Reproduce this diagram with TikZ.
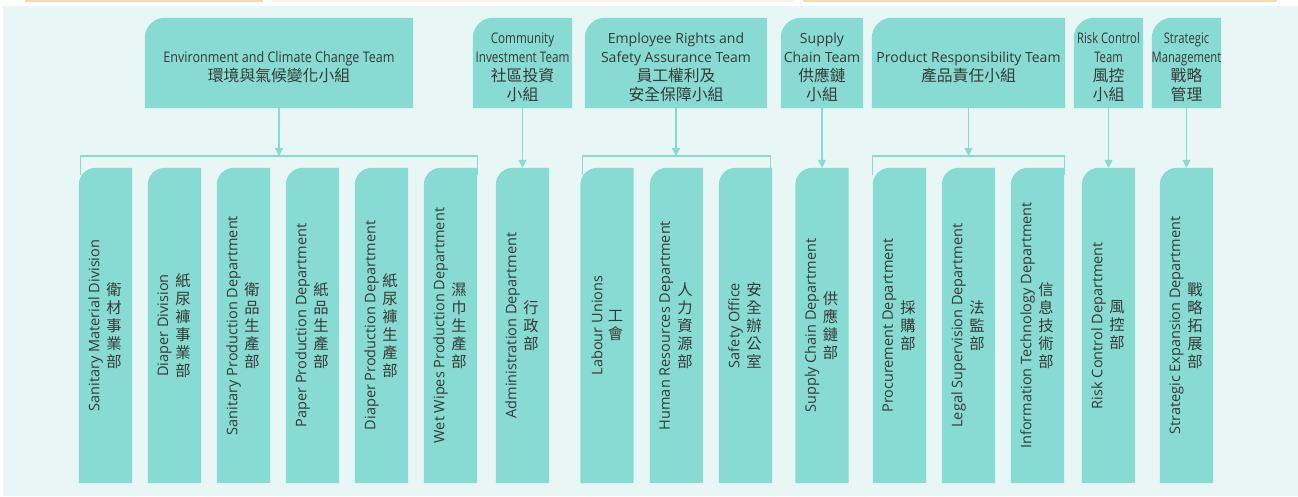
\documentclass[tikz,border=0pt]{standalone}
\usepackage{fontspec}
\setmainfont{Open Sans}
\newfontfamily\cjk{Noto Sans CJK TC}
\usetikzlibrary{arrows.meta,backgrounds}
\definecolor{panel}{HTML}{E9F6F6}
\definecolor{boxteal}{HTML}{87DBD2}
\definecolor{ink}{HTML}{383838}
\definecolor{orangeline}{HTML}{FBD6B3}
\definecolor{paleline}{HTML}{FDF1E8}
\newcommand\zh[1]{{\cjk\fontsize{15.8}{19}\selectfont #1}}
\newcommand\cond[2]{{\fontsize{14.6}{19}\selectfont\scalebox{#1}[1]{#2}}}
\newcommand\tlfill[2]{\fill[boxteal] (#1.south west) [rounded corners=#2] -- (#1.north west) [sharp corners] -- (#1.north east) -- (#1.south east) -- cycle;}
\tikzset{
  team/.style={inner sep=0pt, minimum height=90pt},
  teamtext/.style={inner sep=0pt, align=center, text=ink, font=\fontsize{14}{19}\selectfont},
  dept/.style={inner sep=0pt, minimum height=315pt, minimum width=53pt},
  entext/.style={rotate=90, inner sep=0pt, text=ink, font=\fontsize{14.5}{16}\selectfont},
  zhtext/.style={inner sep=0pt, align=center, text=ink, font=\cjk\fontsize{15.3}{18}\selectfont},
  conn/.style={draw=boxteal, line width=1.3pt, -{Triangle[width=8pt,length=8pt]}},
  brack/.style={draw=boxteal, line width=1.3pt}
}
\newcommand\team[4]{%
  \node[team, minimum width=#3pt] (#1) at (#2,63) {};
  \node[teamtext] (#1t) at ([yshift=-4pt]#1.center) {#4};
  \begin{scope}[on background layer]\tlfill{#1}{20pt}\end{scope}
}
\newcommand\dept[5]{%
  \node[dept] (#1) at ({(#2+#3)/2},325.5) {};
  \node[entext] (#1en) at ([xshift=-10pt]#1.center) {#4};
  \node[zhtext] (#1zh) at ([xshift=8.5pt]#1.center) {#5};
  \begin{scope}[on background layer]\tlfill{#1}{17pt}\end{scope}
}
\begin{document}
\begin{tikzpicture}[x=1pt,y=-1pt]
\useasboundingbox (0,0) rectangle (1298,496);
\begin{scope}[on background layer]
  \fill[white] (0,0) rectangle (1298,496);
  \fill[panel] (3,6) rectangle (1298,496);
  \fill[orangeline] (25,0) rectangle (263,1.5);
  \fill[paleline] (272,0) rectangle (793,1.5);
  \fill[orangeline] (803,0) rectangle (1277,1.5);
\end{scope}
% teams
\team{env}{279}{268}{\cond{0.86}{Environment and Climate Change Team}\\\zh{環境與氣候變化小組}}
\team{com}{522.5}{99}{\cond{0.8}{Community}\\\cond{0.8}{Investment Team}\\\zh{社區投資}\\\zh{小組}}
\team{emp}{676}{182}{Employee Rights and\\Safety Assurance Team\\\zh{員工權利及}\\\zh{安全保障小組}}
\team{sup}{822}{82}{Supply\\Chain Team\\\zh{供應鏈}\\\zh{小組}}
\team{pro}{968.5}{193}{Product Responsibility Team\\\zh{產品責任小組}}
\team{rsk}{1108.5}{69}{\cond{0.77}{Risk Control}\\\cond{0.77}{Team}\\\zh{風控}\\\zh{小組}}
\team{stm}{1186.5}{69}{\cond{0.77}{Strategic}\\\cond{0.77}{Management}\\\zh{戰略}\\\zh{管理}}
% departments
\dept{d1}{79}{132}{Sanitary Material Division}{衛\\材\\事\\業\\部}
\dept{d2}{148}{201}{Diaper Division}{紙\\尿\\褲\\事\\業\\部}
\dept{d3}{217}{270}{Sanitary Production Department}{衛\\品\\生\\產\\部}
\dept{d4}{286}{339}{Paper Production Department}{紙\\品\\生\\產\\部}
\dept{d5}{355}{408}{Diaper Production Department}{紙\\尿\\褲\\生\\產\\部}
\dept{d6}{424}{477}{Wet Wipes Production Department}{濕\\巾\\生\\產\\部}
\dept{d7}{496}{549}{Administration Department}{行\\政\\部}
\dept{d8}{581}{633}{Labour Unions}{工\\會}
\dept{d9}{650}{703}{Human Resources Department}{人\\力\\資\\源\\部}
\dept{d10}{719}{772}{Safety Office}{安\\全\\辦\\公\\室}
\dept{d11}{796}{848}{Supply Chain Department}{供\\應\\鏈\\部}
\dept{d12}{873}{926}{Procurement Department}{採\\購\\部}
\dept{d13}{942}{995}{Legal Supervision Department}{法\\監\\部}
\dept{d14}{1011}{1064}{Information Technology Department}{信\\息\\技\\術\\部}
\dept{d15}{1082}{1135}{Risk Control Department}{風\\控\\部}
\dept{d16}{1160}{1213}{Strategic Expansion Department}{戰\\略\\拓\\展\\部}
% brackets
\coordinate (bEnv) at (279,156);
\coordinate (bEmp) at (676,156);
\coordinate (bPro) at (968.5,156);
\draw[brack] ([xshift=2pt,yshift=-7pt]d1.north west) -- ([xshift=2pt]d1.north west |- bEnv) -- (d6.north east |- bEnv) -- ([yshift=-7pt]d6.north east);
\draw[brack] ([xshift=2pt,yshift=-7pt]d8.north west) -- ([xshift=2pt]d8.north west |- bEmp) -- ([xshift=-2pt]d10.north east |- bEmp) -- ([xshift=-2pt,yshift=-7pt]d10.north east);
\draw[brack] ([yshift=-7pt]d12.north west) -- (d12.north west |- bPro) -- (d14.north east |- bPro) -- ([yshift=-7pt]d14.north east);
% connectors
\draw[conn] (env.south) -- (bEnv);
\draw[conn] (emp.south) -- (bEmp);
\draw[conn] (pro.south) -- (bPro);
\draw[conn] (com.south) -- (d7.north);
\draw[conn] (sup.south) -- (d11.north);
\draw[conn] (rsk.south) -- (d15.north);
\draw[conn] (stm.south) -- (d16.north);
\end{tikzpicture}
\end{document}
